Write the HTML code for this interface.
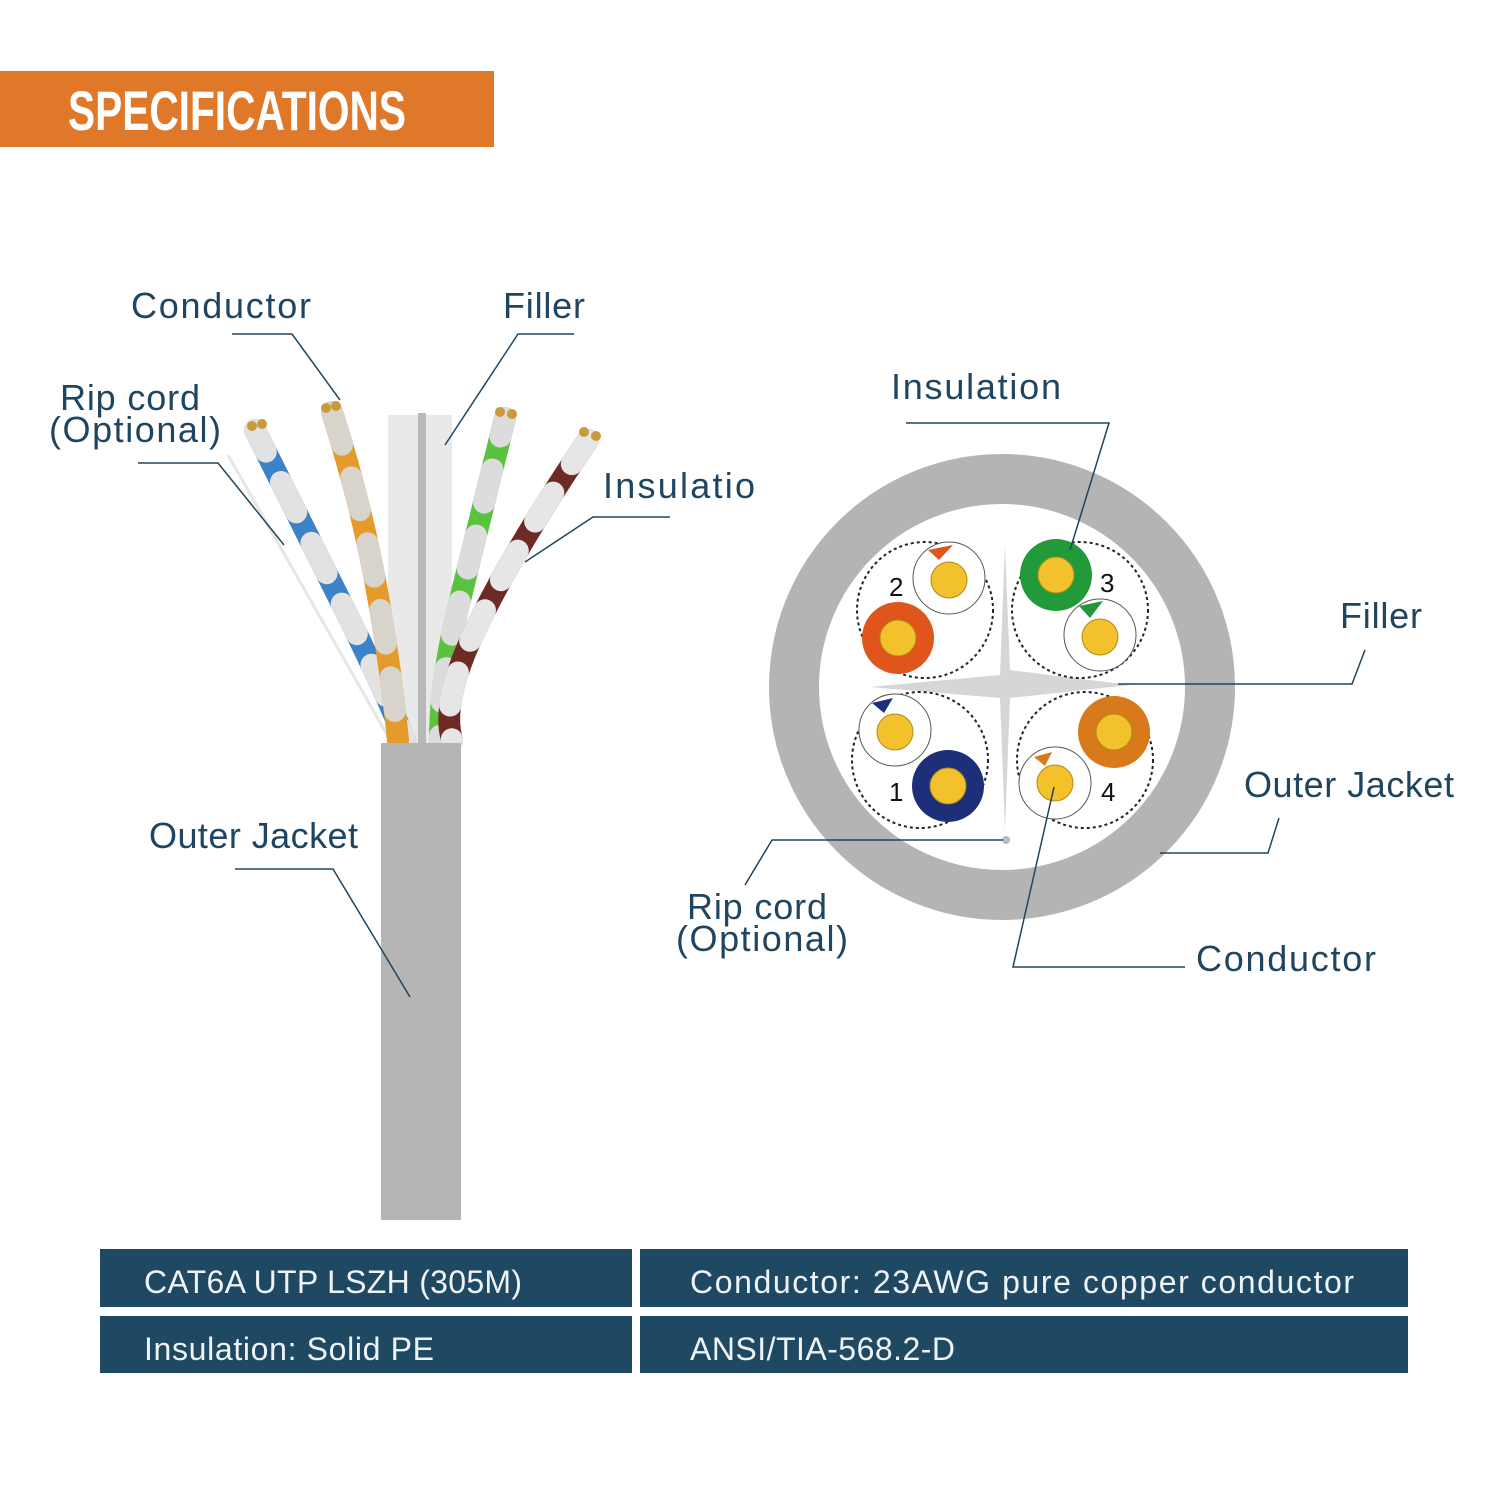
<!DOCTYPE html>
<html><head><meta charset="utf-8"><style>
body{margin:0;width:1500px;height:1500px;background:#fff;overflow:hidden}
svg{display:block}
.l{font-family:"Liberation Sans",sans-serif;font-size:36px;fill:#1f4560}
.t{font-family:"Liberation Sans",sans-serif;font-size:32px;fill:#eef3f6}
</style></head><body>
<svg width="1500" height="1500" viewBox="0 0 1500 1500">
<rect x="0" y="71" width="494" height="76" fill="#e0782a"/>
<text x="68" y="130" font-family="Liberation Sans Narrow,Liberation Sans,sans-serif" font-weight="bold" font-size="56" fill="#fff" textLength="338" lengthAdjust="spacingAndGlyphs">SPECIFICATIONS</text>

<rect x="388" y="415" width="64" height="330" fill="#e9e9e9"/>
<rect x="418" y="413" width="8" height="332" fill="#b8b8b8"/>
<line x1="228" y1="455" x2="390" y2="740" stroke="#e6e6e6" stroke-width="3"/>
<g fill="none" stroke-linecap="round" stroke-width="22">
<path d="M255 430 Q300 520 340 600 T405 740" stroke="#3b82c8"/>
<path d="M255 430 Q300 520 340 600 T405 740" stroke="#e2e2e2" stroke-dasharray="34 34" stroke-dashoffset="10"/>
<path d="M332 412 Q360 500 375 580 T398 740" stroke="#e59a2c"/>
<path d="M332 412 Q360 500 375 580 T398 740" stroke="#d8d4cc" stroke-dasharray="34 34"/>
<path d="M505 418 Q480 520 460 600 T440 740" stroke="#5bc240"/>
<path d="M505 418 Q480 520 460 600 T440 740" stroke="#dcdcdc" stroke-dasharray="34 34" stroke-dashoffset="15"/>
<path d="M588 440 Q520 540 480 620 T452 740" stroke="#6e2a24"/>
<path d="M588 440 Q520 540 480 620 T452 740" stroke="#e6e6e6" stroke-dasharray="34 34" stroke-dashoffset="5"/>
</g>
<g fill="#c89a3a"><circle cx="252" cy="426" r="5"/><circle cx="262" cy="424" r="5"/><circle cx="326" cy="408" r="5"/><circle cx="336" cy="406" r="5"/><circle cx="500" cy="412" r="5"/><circle cx="512" cy="414" r="5"/><circle cx="584" cy="432" r="5"/><circle cx="596" cy="436" r="5"/></g>
<rect x="381" y="743" width="80" height="477" fill="#b5b5b5"/>

<g stroke="#1f4560" stroke-width="1.5" fill="none">
<polyline points="232,334 292,334 340,400"/>
<polyline points="574,334 518,334 445,445"/>
<polyline points="138,463 218,463 284,545"/>
<polyline points="670,517 593,517 525,562"/>
<polyline points="235,869 333,869 410,997"/>
</g>
<text class="l" x="131" y="318" textLength="180">Conductor</text>
<text class="l" x="503" y="318" textLength="82">Filler</text>
<text class="l" x="60" y="410" textLength="140">Rip cord</text>
<text class="l" x="49" y="442" textLength="172">(Optional)</text>
<text class="l" x="603" y="498" textLength="152">Insulatio</text>
<text class="l" x="149" y="848" textLength="209">Outer Jacket</text>

<circle cx="1002" cy="687" r="208" fill="none" stroke="#b4b4b4" stroke-width="50"/>
<path d="M1005 545 L1010 670 L1130 685 L1010 698 L1005 830 L1000 698 L870 687 L1000 675 Z" fill="#d6d6d6"/>
<g fill="none" stroke="#222" stroke-width="2" stroke-dasharray="3 3">
<circle cx="925" cy="610" r="68"/><circle cx="1080" cy="610" r="68"/>
<circle cx="920" cy="760" r="68"/><circle cx="1085" cy="760" r="68"/>
</g>
<g stroke="#555" stroke-width="1">
<circle cx="949" cy="578" r="36" fill="#fff"/><circle cx="1100" cy="635" r="36" fill="#fff"/>
<circle cx="895" cy="730" r="36" fill="#fff"/><circle cx="1055" cy="783" r="36" fill="#fff"/>
</g>
<circle cx="898" cy="638" r="36" fill="#e0551c"/>
<circle cx="1056" cy="575" r="36" fill="#239a3a"/>
<circle cx="948" cy="786" r="36" fill="#1c2f78"/>
<circle cx="1114" cy="732" r="36" fill="#d8791c"/>
<path d="M939 560 L928 550 L953 545 Z" fill="#e0551c"/>
<path d="M1090 618 L1079 606 L1103 601 Z" fill="#239a3a"/>
<path d="M884 713 L872 703 L893 698 Z" fill="#1c2f78"/>
<path d="M1045 766 L1034 757 L1052 752 Z" fill="#d8791c"/>
<g fill="#f2c12b" stroke="#b08a1a" stroke-width="1">
<circle cx="949" cy="580" r="18"/><circle cx="1100" cy="637" r="18"/><circle cx="895" cy="732" r="18"/><circle cx="1055" cy="783" r="18"/>
<circle cx="898" cy="638" r="18"/><circle cx="1056" cy="575" r="18"/><circle cx="948" cy="786" r="18"/><circle cx="1114" cy="732" r="18"/>
</g>
<g font-family="Liberation Sans,sans-serif" font-size="26" fill="#111">
<text x="889" y="596">2</text><text x="1100" y="592">3</text><text x="889" y="801">1</text><text x="1101" y="801">4</text></g>
<circle cx="1006" cy="840" r="4" fill="#bbb"/>
<g stroke="#1f4560" stroke-width="1.5" fill="none">
<polyline points="906,423 1109,423 1070,550"/>
<polyline points="1365,650 1352,684 1118,684"/>
<polyline points="1279,818 1268,853 1160,853"/>
<polyline points="745,885 772,840 1003,840"/>
<polyline points="1185,967 1013,967 1054,787"/>
</g>
<text class="l" x="891" y="399" textLength="170">Insulation</text>
<text class="l" x="1340" y="628" textLength="82">Filler</text>
<text class="l" x="1244" y="797" textLength="210">Outer Jacket</text>
<text class="l" x="687" y="919" textLength="140">Rip cord</text>
<text class="l" x="676" y="951" textLength="172">(Optional)</text>
<text class="l" x="1196" y="971" textLength="180">Conductor</text>

<g fill="#1f4863">
<rect x="100" y="1249" width="532" height="58"/><rect x="640" y="1249" width="768" height="58"/>
<rect x="100" y="1316" width="532" height="57"/><rect x="640" y="1316" width="768" height="57"/>
</g>
<text class="t" x="144" y="1293" textLength="378">CAT6A UTP LSZH (305M)</text>
<text class="t" x="690" y="1293" textLength="664">Conductor: 23AWG pure copper conductor</text>
<text class="t" x="144" y="1360" textLength="290">Insulation: Solid PE</text>
<text class="t" x="690" y="1360" textLength="265">ANSI/TIA-568.2-D</text>
</svg>
</body></html>
